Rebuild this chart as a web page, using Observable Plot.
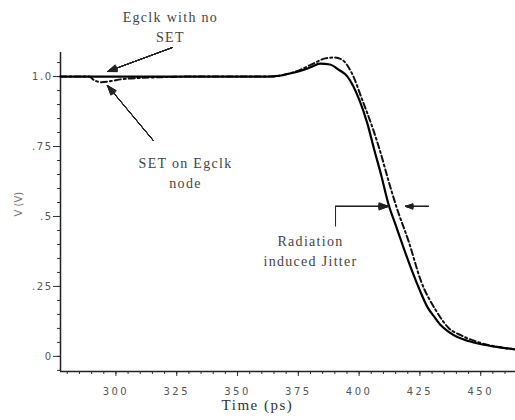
<!DOCTYPE html>
<html>
<head>
<meta charset="utf-8">
<script src="https://cdn.jsdelivr.net/npm/d3@7"></script>
<script src="https://cdn.jsdelivr.net/npm/@observablehq/plot@0.6"></script>
<style>
  html, body { margin: 0; padding: 0; background: #fff; }
</style>
</head>
<body>
<div id="chart"></div>
<script>
// ---- data ----
const xDomain = [277.2, 464.3];
const yDomain = [-0.054, 1.086];
const xTicks = [300, 325, 350, 375, 400, 425, 450];
const xTickLabels = ["300", "325", "350", "375", "400", "425", "450"];
const yTicks = [0, 0.25, 0.5, 0.75, 1.0];
const yTickLabels = ["0", ".25", ".5", ".75", "1.0"];
const xMinorTicks = d3.range(280, 465, 5);
const yMinorTicks = d3.range(-0.05, 1.09, 0.05);

// Egclk with no SET (solid)
const timeNoSET = [277.2, 362, 367, 372, 376, 380, 384, 388, 391.5, 395.2, 400.2, 403.4, 406.3, 409, 412.2, 415, 418.2, 422, 425, 428.1, 431, 433.6, 437, 440.4, 445, 449.3, 455, 464.3];
const vNoSET    = [1.0, 1.0, 1.003, 1.012, 1.021, 1.033, 1.046, 1.043, 1.025, 1.0, 0.914, 0.832, 0.736, 0.65, 0.54, 0.47, 0.39, 0.30, 0.235, 0.176, 0.14, 0.111, 0.087, 0.069, 0.055, 0.045, 0.036, 0.025];

// SET on Egclk node (dash-dot)
const timeSET = [277.2, 289, 291, 294, 298, 302, 310, 320, 330, 364, 370, 376, 382, 386, 390, 393, 396.9, 401.4, 405, 408.4, 412, 415.5, 420.4, 425.4, 431.6, 437, 442, 450, 464.3];
const vSET    = [1.0, 1.0, 0.987, 0.98, 0.984, 0.99, 0.995, 0.998, 1.0, 1.0, 1.008, 1.025, 1.05, 1.065, 1.068, 1.06, 1.014, 0.914, 0.83, 0.74, 0.63, 0.53, 0.41, 0.27, 0.164, 0.1, 0.075, 0.048, 0.025];

// annotations
const noteText = ["Egclk with no\nSET", "SET on Egclk\nnode", "Radiation\ninduced Jitter"];
const noteX = [322.4, 328.6, 380.0];
const noteY = [1.182, 0.661, 0.382];

const arrowX1 = [323.3, 315.4, 390.3, 428.5];
const arrowY1 = [1.104, 0.771, 0.536, 0.536];
const arrowX2 = [296.5, 296.5, 412.1, 419.1];
const arrowY2 = [1.018, 0.968, 0.536, 0.536];

const bracketX = [390.3, 390.3];
const bracketY = [0.464, 0.536];

// ---- tables ----
const noSET = timeNoSET.map((t, i) => ({t, v: vNoSET[i]}));
const withSET = timeSET.map((t, i) => ({t, v: vSET[i]}));
const notes = noteText.map((s, i) => ({s, x: noteX[i], y: noteY[i]}));
const arrows = arrowX1.map((x1, i) => ({x1, y1: arrowY1[i], x2: arrowX2[i], y2: arrowY2[i]}));
const bracket = [{x1: bracketX[0], y1: bracketY[0], x2: bracketX[1], y2: bracketY[1]}];

const serif = "'Liberation Serif', 'DejaVu Serif', serif";
const sans = "'DejaVu Sans', sans-serif";

function filledArrows(data) {
  return [6, 12, 18, 24, 30, 36, 42].map(a => Plot.arrow(data, {
    x1: "x1", y1: "y1", x2: "x2", y2: "y2",
    stroke: "#222", strokeWidth: 1, headAngle: a, headLength: 15
  }));
}

const chart = Plot.plot({
  width: 515,
  height: 420,
  marginLeft: 60,
  marginRight: 0,
  marginTop: 52,
  marginBottom: 49,
  style: {background: "#fff", color: "#222", fontFamily: sans},
  x: {domain: xDomain},
  y: {domain: yDomain},
  marks: [
    // minor ticks
    Plot.axisX({ticks: xMinorTicks, tickSize: 3, text: null, label: null, stroke: "#333"}),
    Plot.axisY({ticks: yMinorTicks, tickSize: 3, text: null, label: null, stroke: "#333"}),
    // major ticks + labels
    Plot.axisX({
      ticks: xTicks, tickSize: 5, tickPadding: 11, label: null,
      tickFormat: d => xTickLabels[xTicks.indexOf(d)],
      fontSize: 10, fill: "#555", stroke: "#333"
    }),
    Plot.axisY({
      ticks: yTicks, tickSize: 7, tickPadding: 1, label: null,
      tickFormat: d => yTickLabels[yTicks.indexOf(d)],
      fontSize: 10, fill: "#555", stroke: "#333"
    }),
    Plot.ruleX([xDomain[0]], {stroke: "#222", strokeWidth: 1.5}),
    Plot.ruleY([yDomain[0]], {stroke: "#222", strokeWidth: 1.5}),
    // axis titles
    Plot.text(["Time (ps)"], {x: [358.2], frameAnchor: "bottom", dy: 38, text: d => d,
      fontFamily: serif, fontSize: 15, fill: "#333"}),
    Plot.text(["V (V)"], {y: [0.5], frameAnchor: "left", dx: -42, rotate: -90, text: d => d,
      fontFamily: sans, fontSize: 10, fill: "#777"}),
    // curves
    Plot.line(withSET, {x: "t", y: "v", stroke: "#111", strokeWidth: 2, strokeDasharray: "6,3,2,3", curve: "monotone-x"}),
    Plot.line(noSET, {x: "t", y: "v", stroke: "#000", strokeWidth: 2.2, curve: "monotone-x"}),
    // annotations
    Plot.text(notes, {x: "x", y: "y", text: "s", fontFamily: serif, fontSize: 14, fill: "#444",
      lineHeight: 1.45}),
    Plot.link(bracket, {x1: "x1", y1: "y1", x2: "x2", y2: "y2", stroke: "#222", strokeWidth: 1}),
    ...filledArrows(arrows)
  ]
});
// letter spacing for the text, set after rendering
const svg = d3.select(chart);
svg.selectAll("text").each(function() {
  const el = d3.select(this);
  const t = el.text();
  if (xTickLabels.includes(t)) el.style("letter-spacing", "2.5px");
  else if (yTickLabels.includes(t)) el.style("letter-spacing", "1.5px");
});
svg.selectAll("g[aria-label='text']").each(function() {
  const g = d3.select(this);
  const t = g.text();
  if (t.startsWith("Time")) g.style("letter-spacing", "1.5px");
  else if (!t.startsWith("V (V)")) g.style("letter-spacing", "1.3px");
});
document.getElementById("chart").appendChild(chart);
</script>
</body>
</html>
